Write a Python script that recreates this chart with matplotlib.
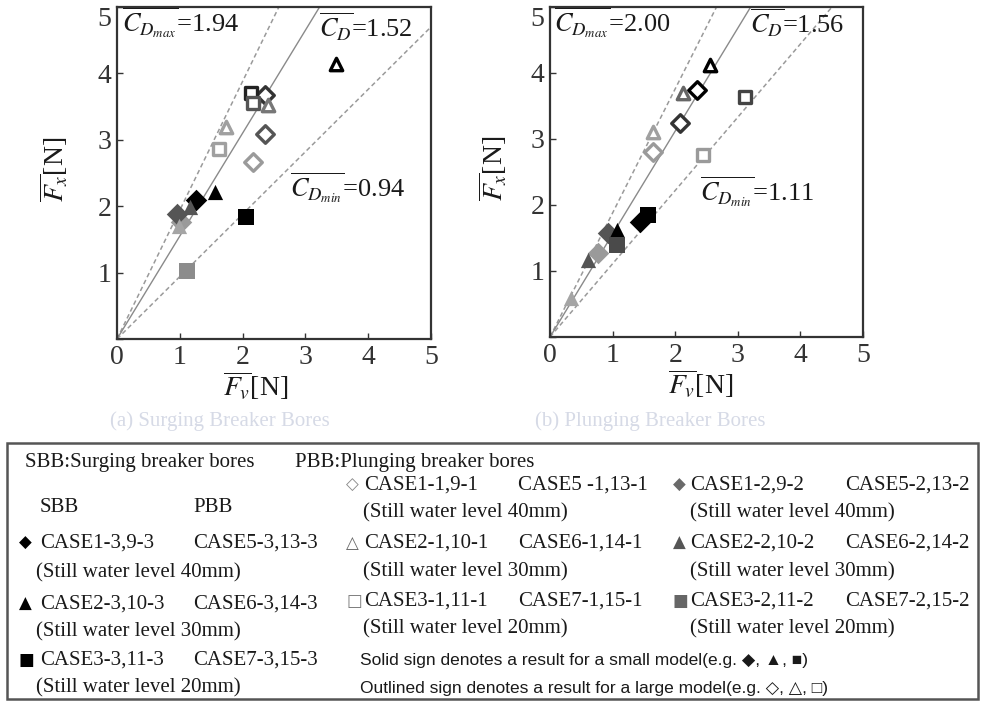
import matplotlib
matplotlib.use('Agg')
import matplotlib.pyplot as plt
from matplotlib.patches import Rectangle
import numpy as np

plt.rcParams['font.family'] = ['Liberation Serif', 'DejaVu Sans']
plt.rcParams['mathtext.fontset'] = 'stix'

# ---- data: (Fv, Fx) pairs per marker group ----
# panel (a) surging breaker bores
a_fill_diamond_x = [1.02, 0.95, 1.26]
a_fill_diamond_y = [1.76, 1.89, 2.09]
a_fill_diamond_c = ['#9a9a9a', '#555555', '#000000']
a_fill_tri_x = [0.98, 1.16, 1.56]
a_fill_tri_y = [1.70, 1.99, 2.22]
a_fill_tri_c = ['#a5a5a5', '#555555', '#000000']
a_fill_sq_x = [1.11, 2.06]
a_fill_sq_y = [1.03, 1.84]
a_fill_sq_c = ['#8c8c8c', '#000000']
a_open_diamond_x = [2.35, 2.35, 2.16]
a_open_diamond_y = [3.68, 3.08, 2.67]
a_open_diamond_c = ['#333333', '#555555', '#9a9a9a']
a_open_tri_x = [3.49, 2.40, 1.74]
a_open_tri_y = [4.14, 3.53, 3.20]
a_open_tri_c = ['#000000', '#777777', '#a0a0a0']
a_open_sq_x = [2.14, 2.16, 1.63]
a_open_sq_y = [3.71, 3.56, 2.86]
a_open_sq_c = ['#222222', '#555555', '#a0a0a0']
a_slopes = [1.94, 1.55, 0.94]
a_labels = [r'$\overline{C_{D_{max}}}$=1.94', r'$\overline{C_D}$=1.52', r'$\overline{C_{D_{min}}}$=0.94']

# panel (b) plunging breaker bores
b_fill_diamond_x = [0.77, 0.93, 1.44]
b_fill_diamond_y = [1.27, 1.57, 1.75]
b_fill_diamond_c = ['#9a9a9a', '#555555', '#000000']
b_fill_tri_x = [0.33, 0.61, 1.07]
b_fill_tri_y = [0.59, 1.17, 1.62]
b_fill_tri_c = ['#a5a5a5', '#555555', '#000000']
b_fill_sq_x = [1.07, 1.57]
b_fill_sq_y = [1.39, 1.85]
b_fill_sq_c = ['#4a4a4a', '#000000']
b_open_diamond_x = [2.35, 2.08, 1.65]
b_open_diamond_y = [3.74, 3.24, 2.81]
b_open_diamond_c = ['#000000', '#333333', '#9a9a9a']
b_open_tri_x = [2.56, 2.13, 1.65]
b_open_tri_y = [4.12, 3.69, 3.11]
b_open_tri_c = ['#000000', '#666666', '#a0a0a0']
b_open_sq_x = [3.12, 2.45]
b_open_sq_y = [3.64, 2.76]
b_open_sq_c = ['#444444', '#9a9a9a']
b_slopes = [1.88, 1.56, 1.11]
b_labels = [r'$\overline{C_{D_{max}}}$=2.00', r'$\overline{C_D}$=1.56', r'$\overline{C_{D_{min}}}$=1.11']

ticks = [0, 1, 2, 3, 4, 5]

W, H = 981, 701
fig = plt.figure(figsize=(W / 100, H / 100), dpi=100)


def px_axes(x0, y0, x1, y1):
    return fig.add_axes([x0 / W, 1 - y1 / H, (x1 - x0) / W, (y1 - y0) / H])


def ftext(x, y, s, **kw):
    kw.setdefault('va', 'center')
    kw.setdefault('fontsize', 15)
    kw.setdefault('color', '#1a1a1a')
    fig.text(x / W, 1 - y / H, s, **kw)


def draw_panel(ax, pts, slopes, labels, label_pos):
    xs = np.array([0, 5.5])
    styles = [('--', '#9a9a9a', 1.1), ('-', '#8a8a8a', 1.0), ('--', '#9a9a9a', 1.1)]
    for k, (ls, col, lw) in zip(slopes, styles):
        ax.plot(xs, k * xs, ls=ls, color=col, lw=lw, dashes=(3, 2) if ls == '--' else (None, None), zorder=1)
    for (x, y, c, m, filled) in pts:
        for xi, yi, ci in zip(x, y, c):
            if filled:
                ax.scatter(xi, yi, s=140 if m == 's' else 120, marker=m, color=ci, zorder=3, linewidths=0)
            else:
                ax.scatter(xi, yi, s=80, marker=m, facecolor='white', edgecolor=ci, linewidths=2.4, zorder=3)
    for lab, (tx, ty) in zip(labels, label_pos):
        ax.text(tx, ty, lab, fontsize=19, color='#1a1a1a', va='center', ha='left', zorder=4)
    ax.set_xlim(0, 5)
    ax.set_ylim(0, 5)
    ax.set_xticks(ticks)
    ax.set_yticks(ticks)
    ax.set_xticklabels(['0', '1', '2', '3', '4', '5'])
    ax.set_yticklabels(['', '1', '2', '3', '4', '5'])
    ax.get_yticklabels()[-1].set_va('top')
    ax.tick_params(direction='in', length=4, width=1, labelsize=20, pad=4, colors='#333333')
    for sp in ax.spines.values():
        sp.set_color('#333333')
        sp.set_linewidth(1.6)


ax1 = px_axes(117, 7, 431, 339)
pts_a = [
    (a_fill_diamond_x, a_fill_diamond_y, a_fill_diamond_c, 'D', True),
    (a_fill_tri_x, a_fill_tri_y, a_fill_tri_c, '^', True),
    (a_fill_sq_x, a_fill_sq_y, a_fill_sq_c, 's', True),
    (a_open_diamond_x, a_open_diamond_y, a_open_diamond_c, 'D', False),
    (a_open_tri_x, a_open_tri_y, a_open_tri_c, '^', False),
    (a_open_sq_x, a_open_sq_y, a_open_sq_c, 's', False),
]
draw_panel(ax1, pts_a, a_slopes, a_labels, [(0.08, 4.76), (3.22, 4.7), (2.75, 2.28)])
ax1.set_xlabel(r'$\overline{F_v}$[N]', fontsize=20, color='#1a1a1a')
ax1.xaxis.set_label_coords(0.44, -0.09)
ax1.set_ylabel(r'$\overline{F_x}$[N]', fontsize=20, color='#1a1a1a')
ax1.yaxis.set_label_coords(-0.15, 0.51)

ax2 = px_axes(550, 7, 863, 337)
pts_b = [
    (b_fill_diamond_x, b_fill_diamond_y, b_fill_diamond_c, 'D', True),
    (b_fill_tri_x, b_fill_tri_y, b_fill_tri_c, '^', True),
    (b_fill_sq_x, b_fill_sq_y, b_fill_sq_c, 's', True),
    (b_open_diamond_x, b_open_diamond_y, b_open_diamond_c, 'D', False),
    (b_open_tri_x, b_open_tri_y, b_open_tri_c, '^', False),
    (b_open_sq_x, b_open_sq_y, b_open_sq_c, 's', False),
]
draw_panel(ax2, pts_b, b_slopes, b_labels, [(0.06, 4.76), (3.2, 4.76), (2.4, 2.2)])
ax2.set_xlabel(r'$\overline{F_v}$[N]', fontsize=20, color='#1a1a1a')
ax2.xaxis.set_label_coords(0.48, -0.09)
ax2.set_ylabel(r'$\overline{F_x}$[N]', fontsize=20, color='#1a1a1a')
ax2.yaxis.set_label_coords(-0.13, 0.51)

# faded captions under the panels
ftext(220, 421, '(a) Surging Breaker Bores', ha='center', color='#d6dae6', fontsize=15)
ftext(650, 421, '(b) Plunging Breaker Bores', ha='center', color='#d6dae6', fontsize=15)

# ---- legend box ----
fig.add_artist(Rectangle((7 / W, 1 - 699 / H), (978 - 7) / W, (699 - 443) / H,
                         transform=fig.transFigure, fill=False, edgecolor='#555555', lw=1.8))

ftext(25, 462, 'SBB:Surging breaker bores')
ftext(295, 462, 'PBB:Plunging breaker bores')
ftext(40, 507, 'SBB')
ftext(193, 507, 'PBB')

gl = dict(fontsize=12, family=['DejaVu Sans'])
rows_left = [(543, '◆', 'CASE1-3,9-3', 'CASE5-3,13-3', '(Still water level 40mm)', 573),
             (604, '▲', 'CASE2-3,10-3', 'CASE6-3,14-3', '(Still water level 30mm)', 632),
             (660, '■', 'CASE3-3,11-3', 'CASE7-3,15-3', '(Still water level 20mm)', 688)]
for y, g, c1, c2, sw, y2 in rows_left:
    ftext(19, y, g, color='black', **gl)
    ftext(40, y, c1)
    ftext(193, y, c2)
    ftext(36, y2, sw)

rows_mid = [(485, '◇', '#8a8a8a', 'CASE1-1,9-1', 'CASE5 -1,13-1', '(Still water level 40mm)', 513),
            (543, '△', '#6a6a6a', 'CASE2-1,10-1', 'CASE6-1,14-1', '(Still water level 30mm)', 572),
            (601, '□', '#7a7a7a', 'CASE3-1,11-1', 'CASE7-1,15-1', '(Still water level 20mm)', 629)]
for y, g, gc, c1, c2, sw, y2 in rows_mid:
    ftext(346, y, g, color=gc, **gl)
    ftext(364, y, c1)
    ftext(518, y, c2)
    ftext(363, y2, sw)

rows_right = [(485, '◆', '#6a6a6a', 'CASE1-2,9-2', 'CASE5-2,13-2', '(Still water level 40mm)', 513),
              (543, '▲', '#555555', 'CASE2-2,10-2', 'CASE6-2,14-2', '(Still water level 30mm)', 572),
              (601, '■', '#666666', 'CASE3-2,11-2', 'CASE7-2,15-2', '(Still water level 20mm)', 629)]
for y, g, gc, c1, c2, sw, y2 in rows_right:
    ftext(673, y, g, color=gc, **gl)
    ftext(690, y, c1)
    ftext(845, y, c2)
    ftext(690, y2, sw)

note = dict(fontsize=12.5, family=['Liberation Sans', 'DejaVu Sans'])
ftext(360, 660, 'Solid sign denotes a result for a small model(e.g. ◆, ▲, ■)', **note)
ftext(360, 688, 'Outlined sign denotes a result for a large model(e.g. ◇, △, □)', **note)

fig.savefig('out.png', dpi=100, facecolor='white')
